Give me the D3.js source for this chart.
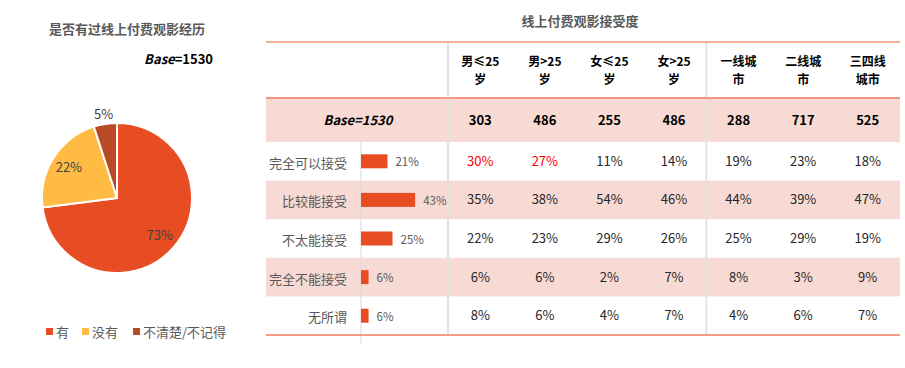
<!DOCTYPE html>
<html>
<head>
<meta charset="utf-8">
<script src="https://cdn.jsdelivr.net/npm/d3@7"></script>
<style>
  body { margin: 0; background: #fff; }
  text { font-family: "Noto Sans CJK SC", "Open Sans", sans-serif; }
</style>
</head>
<body>
<div id="chart"></div>
<script>
// pie data
var pieLabels = ["有", "没有", "不清楚/不记得"];
var pieValues = [73, 22, 5];
var pieColors = ["#E84C22", "#FFBB44", "#B84A26"];

// table data
var columns = [["男≤25", "岁"], ["男>25", "岁"], ["女≤25", "岁"], ["女>25", "岁"], ["一线城", "市"], ["二线城", "市"], ["三四线", "城市"]];
var bases = [303, 486, 255, 486, 288, 717, 525];
var rowNames = ["完全可以接受", "比较能接受", "不太能接受", "完全不能接受", "无所谓"];
var totals = [21, 43, 25, 6, 6];
var cells = [
  [30, 27, 11, 14, 19, 23, 18],
  [35, 38, 54, 46, 44, 39, 47],
  [22, 23, 29, 26, 25, 29, 19],
  [6, 6, 2, 7, 8, 3, 9],
  [8, 6, 4, 7, 4, 6, 7]
];
// cells shown in red: [row, col]
var redCells = [[0, 0], [0, 1]];

var svgWidth = 905;
var svgHeight = 368;

var svg = d3.select("#chart").append("svg").attr("width", svgWidth).attr("height", svgHeight);

// ---------- left: pie ----------
svg.append("text")
  .attr("x", 127).attr("y", 34)
  .attr("text-anchor", "middle")
  .attr("font-size", 13).attr("font-weight", "bold").attr("fill", "#595959")
  .text("是否有过线上付费观影经历");

var baseLeft = svg.append("text")
  .attr("x", 213).attr("y", 64)
  .attr("text-anchor", "end")
  .attr("font-size", 13).attr("font-weight", "bold").attr("fill", "#000");
baseLeft.append("tspan").attr("font-style", "italic").text("Base");
baseLeft.append("tspan").text("=1530");

var radius = 75;
var pieGroup = svg.append("g").attr("transform", "translate(117, 198)");
var pie = d3.pie().sort(null).value(d => d)(pieValues);
var arc = d3.arc().innerRadius(0).outerRadius(radius);
var labelArc = d3.arc().innerRadius(57).outerRadius(57);
var outerArc = d3.arc().innerRadius(85).outerRadius(85);

pieGroup.selectAll("path")
  .data(pie).enter().append("path")
  .attr("d", arc)
  .attr("fill", (d, i) => pieColors[i])
  .attr("stroke", "#fff")
  .attr("stroke-width", 2);

pieGroup.selectAll("text.pl")
  .data(pie).enter().append("text")
  .attr("class", "pl")
  .attr("transform", d => {
    var c = d.data < 10 ? outerArc.centroid(d) : labelArc.centroid(d);
    return `translate(${c[0]}, ${c[1]})`;
  })
  .attr("dy", "0.35em")
  .attr("text-anchor", "middle")
  .attr("font-size", 13).attr("fill", "#404040")
  .text(d => d.data + "%");

// legend
var legendX = [46, 82, 133];
var legend = svg.append("g").attr("transform", "translate(0, 332)");
pieLabels.forEach(function(lab, i) {
  legend.append("rect").attr("x", legendX[i]).attr("y", -4).attr("width", 7).attr("height", 7).attr("fill", pieColors[i]);
  legend.append("text").attr("x", legendX[i] + 10).attr("y", 0).attr("dy", "0.35em")
    .attr("font-size", 13).attr("fill", "#595959").text(lab);
});

// ---------- right: table ----------
var tableLeft = 266, tableRight = 900;
var topLine = 42, headBottom = 98, baseBottom = 142, tableBottom = 335;

svg.append("text")
  .attr("x", 580).attr("y", 26)
  .attr("text-anchor", "middle")
  .attr("font-size", 13).attr("font-weight", "bold").attr("fill", "#595959")
  .text("线上付费观影接受度");

var xCol = d3.scaleBand().domain(d3.range(columns.length)).range([448, tableRight]);
var yRow = d3.scaleBand().domain(rowNames).range([baseBottom, tableBottom]);
var xBar = d3.scaleLinear().domain([0, 100]).range([0, 126]);
var barX0 = 361;

// base row background
svg.append("rect").attr("x", tableLeft).attr("y", headBottom).attr("width", tableRight - tableLeft)
  .attr("height", baseBottom - headBottom).attr("fill", "#F8DAD4");

// striped rows
svg.selectAll("rect.stripe")
  .data(rowNames.filter((d, i) => i % 2 === 1)).enter().append("rect")
  .attr("class", "stripe")
  .attr("x", tableLeft).attr("y", d => yRow(d))
  .attr("width", tableRight - tableLeft).attr("height", yRow.bandwidth())
  .attr("fill", "#F8DAD4");

// vertical separators
[448, xCol(4)].forEach(function(x) {
  svg.append("line").attr("x1", x).attr("x2", x).attr("y1", topLine).attr("y2", tableBottom)
    .attr("stroke", "#e3e3e3").attr("stroke-width", 2);
});
svg.append("line").attr("x1", barX0).attr("x2", barX0).attr("y1", 140).attr("y2", 344)
  .attr("stroke", "#d9d9d9").attr("stroke-width", 1);

// horizontal lines
svg.append("line").attr("x1", tableLeft).attr("x2", tableRight).attr("y1", topLine).attr("y2", topLine)
  .attr("stroke", "#E8603A").attr("stroke-width", 1);
svg.append("line").attr("x1", tableLeft).attr("x2", tableRight).attr("y1", headBottom).attr("y2", headBottom)
  .attr("stroke", "#F09880").attr("stroke-width", 2);
svg.append("line").attr("x1", tableLeft).attr("x2", tableRight).attr("y1", tableBottom).attr("y2", tableBottom)
  .attr("stroke", "#EE7E60").attr("stroke-width", 1.5);

// header: two separate lines per column
columns.forEach(function(lines, i) {
  lines.forEach(function(l, j) {
    svg.append("text")
      .attr("x", xCol(i) + xCol.bandwidth() / 2).attr("y", j === 0 ? 62 : 80).attr("dy", "0.35em")
      .attr("text-anchor", "middle")
      .attr("font-size", 12).attr("font-weight", "bold").attr("fill", "#000")
      .text(l);
  });
});

// base row
var baseMid = (headBottom + baseBottom) / 2;
var bt = svg.append("text").attr("x", 358).attr("y", baseMid).attr("dy", "0.35em")
  .attr("text-anchor", "middle").attr("font-size", 13).attr("font-weight", "bold")
  .attr("font-style", "italic").attr("fill", "#000");
bt.append("tspan").text("Base");
bt.append("tspan").text("=1530");

svg.selectAll("text.base")
  .data(bases).enter().append("text")
  .attr("class", "base")
  .attr("x", (d, i) => xCol(i) + xCol.bandwidth() / 2)
  .attr("y", baseMid).attr("dy", "0.35em")
  .attr("text-anchor", "middle").attr("font-size", 13).attr("font-weight", "bold").attr("fill", "#000")
  .text(d => d);

// row labels, bars and totals
rowNames.forEach(function(name, r) {
  var yMid = yRow(name) + yRow.bandwidth() / 2;
  svg.append("text").attr("x", 347).attr("y", yMid + 2).attr("dy", "0.35em")
    .attr("text-anchor", "end").attr("font-size", 13).attr("fill", "#595959").text(name);
  svg.append("rect").attr("x", barX0).attr("y", yMid - 7).attr("width", xBar(totals[r])).attr("height", 14)
    .attr("fill", "#E84C22");
  svg.append("text").attr("x", barX0 + xBar(totals[r]) + 8).attr("y", yMid + 1).attr("dy", "0.35em")
    .attr("font-size", 11.5).attr("fill", "#595959").text(totals[r] + "%");

  cells[r].forEach(function(v, c) {
    var isRed = redCells.some(rc => rc[0] === r && rc[1] === c);
    svg.append("text")
      .attr("x", xCol(c) + xCol.bandwidth() / 2).attr("y", yMid).attr("dy", "0.35em")
      .attr("text-anchor", "middle").attr("font-size", 13)
      .attr("fill", isRed ? "#FF0000" : "#262626")
      .text(v + "%");
  });
});
</script>
</body>
</html>
